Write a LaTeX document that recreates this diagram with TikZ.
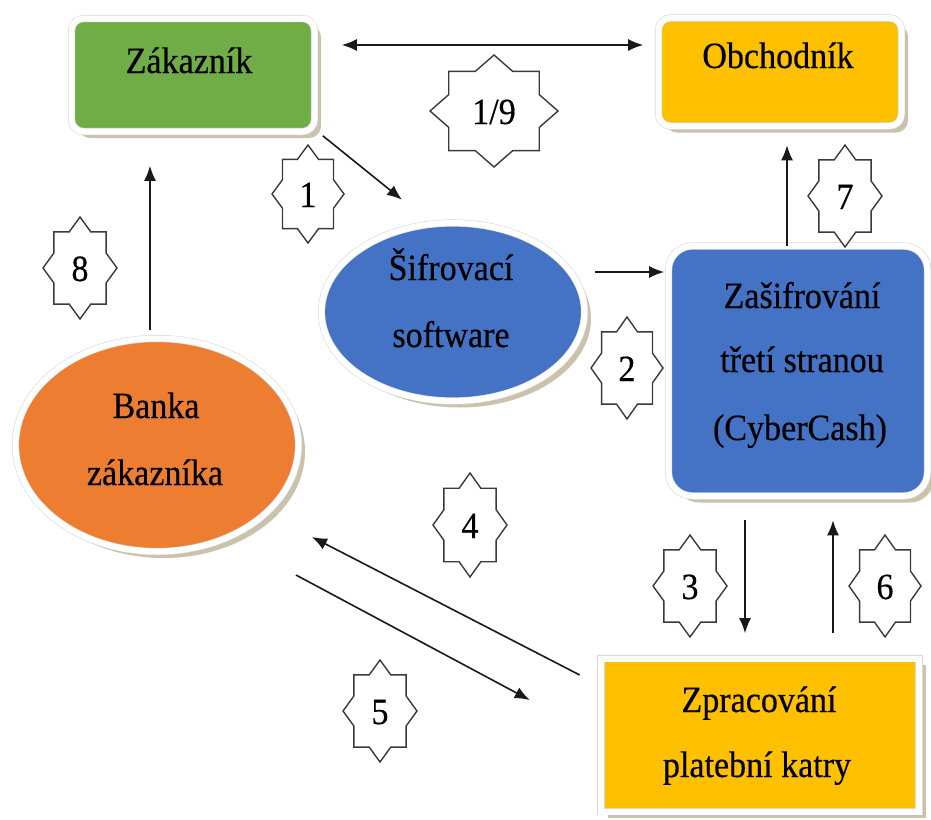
\documentclass[tikz,border=0pt]{standalone}
\usepackage{fontspec}
\setmainfont{Liberation Serif}[FakeStretch=0.92,FakeBold=0.4]
\usetikzlibrary{shapes.geometric,shadows,arrows.meta}
\definecolor{cgreen}{HTML}{70AD47}
\definecolor{cgold}{HTML}{FFC000}
\definecolor{cblue}{HTML}{4472C4}
\definecolor{corange}{HTML}{ED7D31}
\definecolor{shadowc}{HTML}{B8AD8E}
\definecolor{starc}{HTML}{3A3A3A}
\newcommand\octlabel[6]{%
  \begin{scope}[shift={(#2,#3)},xscale=#4,yscale=#5]
    \draw[starline] (1,0) -- (.7071,.2929) -- (.7071,.7071) -- (.2929,.7071) -- (0,1)
      -- (-.2929,.7071) -- (-.7071,.7071) -- (-.7071,.2929) -- (-1,0)
      -- (-.7071,-.2929) -- (-.7071,-.7071) -- (-.2929,-.7071) -- (0,-1)
      -- (.2929,-.7071) -- (.7071,-.7071) -- (.7071,-.2929) -- cycle;
  \end{scope}
  \node[txt] (#1) at (#2,#3+13) {#6};
}
\begin{document}
\begin{tikzpicture}[x=1pt,y=-1pt,
  box/.style={draw=gray!30, double=white, double distance=6pt, line width=0.6pt,
    drop shadow={shadow xshift=6.5pt, shadow yshift=-6.5pt, fill=shadowc, opacity=0.75},
    inner sep=0pt},
  txt/.style={anchor=base, inner sep=0pt, font=\fontsize{37}{44}\selectfont, text=black},
  starline/.style={draw=starc, line width=1.4pt, fill=white},
  tip/.style={},
  arr/.style={draw=black!90, line width=1.6pt, -{Latex[length=15pt,width=12pt]}},
  darr/.style={draw=black!90, line width=1.6pt, {Latex[length=15pt,width=12pt]}-{Latex[length=15pt,width=12pt]}}]
\useasboundingbox (0,0) rectangle (931,819);

% shapes
\node[box, rounded corners=12pt, fill=cgreen, minimum width=243pt, minimum height=113pt] (zak) at (193,75) {};
\node[box, rounded corners=12pt, fill=cgold, minimum width=243pt, minimum height=108pt] (obch) at (780,72) {};
\node[box, ellipse, fill=cblue, minimum width=263pt, minimum height=178pt] (sif) at (453,312) {};
\node[box, rounded corners=24pt, fill=cblue, minimum width=259pt, minimum height=250pt] (zas) at (798,371) {};
\node[box, ellipse, fill=corange, minimum width=283pt, minimum height=213pt] (banka) at (157,445) {};
\node[box, fill=cgold, minimum width=318pt, minimum height=153pt] (zpr) at (760,735) {};

% texts
\node[txt] (tzak) at (189,73) {Zákazník};
\node[txt] (tobch) at (778,68) {Obchodník};
\node[txt] (tsif1) at (451,280) {Šifrovací};
\node[txt] (tsif2) at (451,347) {software};
\node[txt] (tzas1) at (802,308) {Zašifrování};
\node[txt] (tzas2) at (802,372) {třetí stranou};
\node[txt] (tzas3) at (800,440) {(CyberCash)};
\node[txt] (tban1) at (156,418) {Banka};
\node[txt] (tban2) at (155,485) {zákazníka};
\node[txt] (tzpr1) at (759,712) {Zpracování};
\node[txt] (tzpr2) at (757,777) {platební katry};

% connectors
\draw[darr] ([xshift=27pt,yshift=30pt]zak.east) -- ([xshift=-15pt,yshift=27pt]obch.west);
\draw[arr] ([xshift=8pt,yshift=-4pt]zak.south east) -- ([xshift=-51pt,yshift=23pt]sif.north);
\draw[arr] ([xshift=10pt,yshift=40pt]sif.east) -- ([xshift=-4pt,yshift=99pt]zas.west);
\draw[arr] ([xshift=-11pt]zas.north) -- ([xshift=7pt,yshift=-19pt]obch.south);
\draw[arr] ([xshift=-53pt,yshift=-24pt]zas.south) -- ([xshift=-15pt,yshift=25pt]zpr.north);
\draw[arr] ([xshift=73pt,yshift=25pt]zpr.north) -- ([xshift=35pt,yshift=-24pt]zas.south);
\draw[arr] ([xshift=-21pt,yshift=60pt]zpr.west) -- ([xshift=155pt,yshift=-92pt]banka.center);
\draw[arr] ([xshift=139pt,yshift=-130pt]banka.center) -- ([xshift=-71pt,yshift=35pt]zpr.west);
\draw[arr] ([xshift=-7pt,yshift=8pt]banka.north) -- ([xshift=-43pt,yshift=-34pt]zak.south);

% step labels
\octlabel{s19}{494}{111}{64}{56}{1/9}
\octlabel{s1}{308}{194}{36}{49}{1}
\octlabel{s8}{80}{268}{37}{51}{8}
\octlabel{s7}{845}{196}{37}{51}{7}
\octlabel{s2}{627}{368}{36}{51}{2}
\octlabel{s4}{470}{525}{37}{52}{4}
\octlabel{s5}{380}{711}{37}{51}{5}
\octlabel{s3}{690}{586}{37}{51}{3}
\octlabel{s6}{885}{586}{36}{51}{6}
\end{tikzpicture}
\end{document}
